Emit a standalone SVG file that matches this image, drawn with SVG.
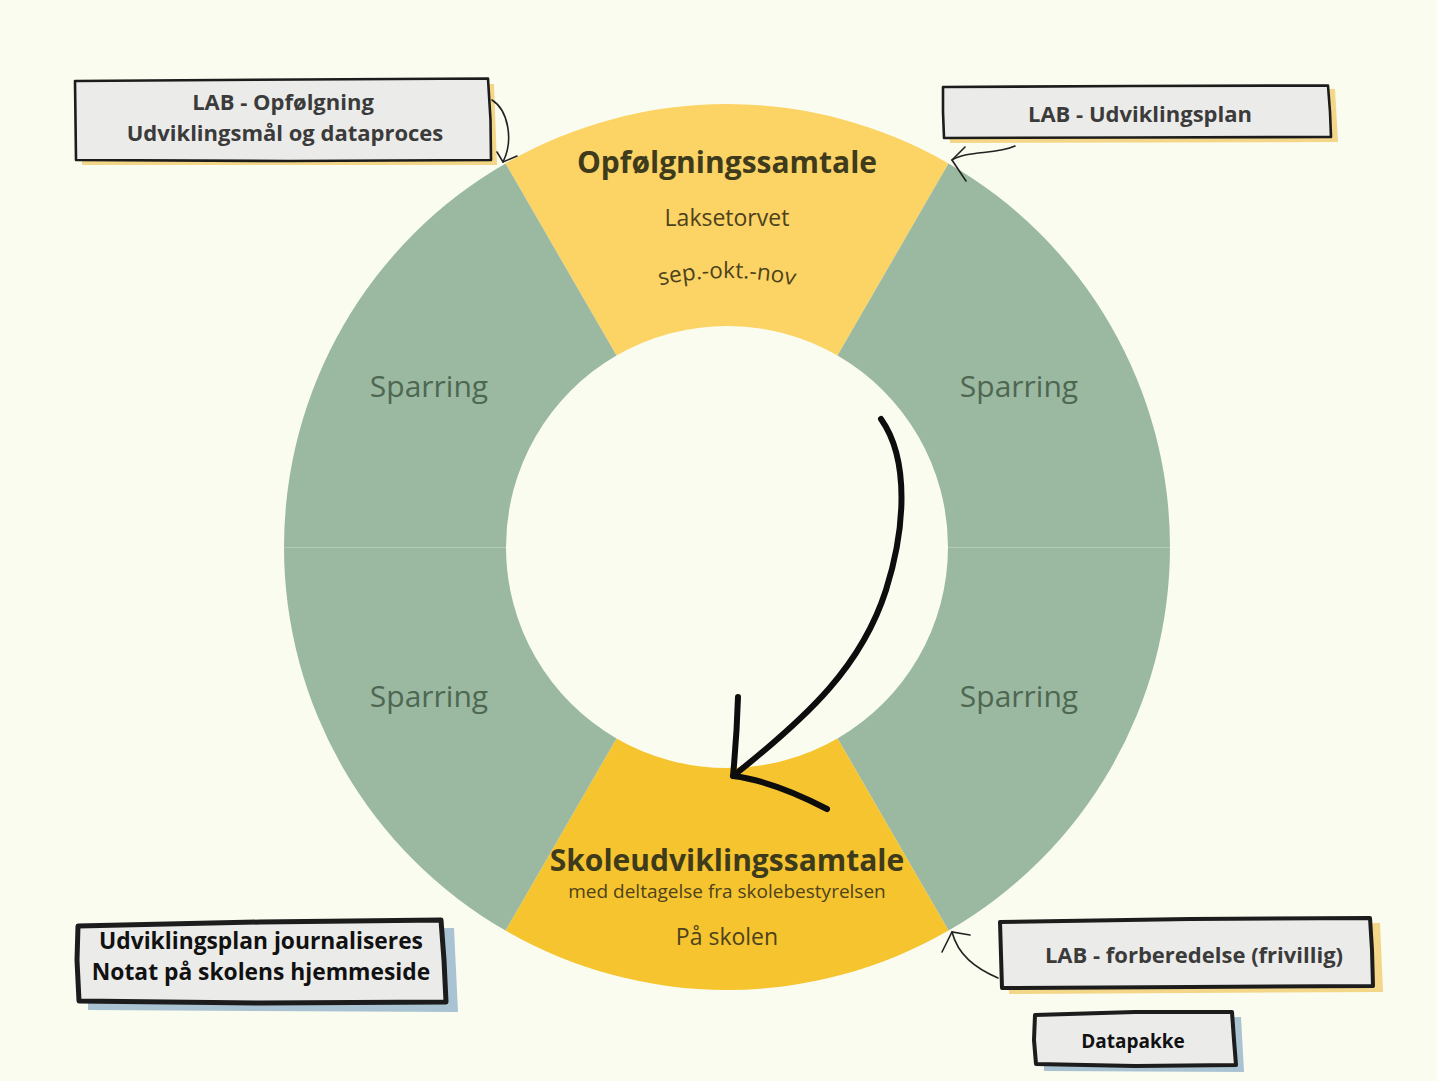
<svg xmlns="http://www.w3.org/2000/svg" width="1437" height="1081" viewBox="0 0 1437 1081">
<style>
.green{fill:#9bb9a1}
.ytop{fill:#fbd465}
.ybot{fill:#f5c42e}
.spar{font-family:"Open Sans","Liberation Sans",sans-serif;font-size:30px;fill:#4e6753;text-anchor:middle}
.ttl{font-family:"Open Sans","Liberation Sans",sans-serif;font-size:30px;font-weight:700;fill:#3e3b1c;text-anchor:middle}
.sub{font-family:"Open Sans","Liberation Sans",sans-serif;fill:#4d421c;text-anchor:middle}
.box{fill:#ebebea;stroke:#1c1c1c;stroke-linejoin:round}
.btxt{font-family:"Open Sans","Liberation Sans",sans-serif;font-weight:700;text-anchor:middle}
.thin{fill:none;stroke:#222;stroke-width:1.6;stroke-linecap:round}
.thick{fill:none;stroke:#0d0d0d;stroke-width:6;stroke-linecap:round;stroke-linejoin:round}
</style>
<defs>
<path id="arcSep" d="M 607,303 A 300 300 0 0 1 847,303"/>
</defs>
<rect x="0" y="0" width="1437" height="1081" fill="#fbfcf0"/>

<g id="ring">
<g id="seg-top"><path class="ytop" d="M505.5,163.4 A443,443 0 0 1 948.5,163.4 L837.5,355.6 A221,221 0 0 0 616.5,355.6 Z"/></g>
<g id="seg-top-right"><path class="green" d="M948.5,163.4 A443,443 0 0 1 1170,547 L948,547 A221,221 0 0 0 837.5,355.6 Z"/></g>
<g id="seg-bottom-right"><path class="green" d="M1170,547 A443,443 0 0 1 948.5,930.6 L837.5,738.4 A221,221 0 0 0 948,547 Z"/></g>
<g id="seg-bottom"><path class="ybot" d="M948.5,930.6 A443,443 0 0 1 505.5,930.6 L616.5,738.4 A221,221 0 0 0 837.5,738.4 Z"/></g>
<g id="seg-bottom-left"><path class="green" d="M505.5,930.6 A443,443 0 0 1 284,547 L506,547 A221,221 0 0 0 616.5,738.4 Z"/></g>
<g id="seg-top-left"><path class="green" d="M284,547 A443,443 0 0 1 505.5,163.4 L616.5,355.6 A221,221 0 0 0 506,547 Z"/></g>
<line x1="284" y1="547.5" x2="506" y2="547.5" stroke="#b5cbb8" stroke-width="1"/>
<line x1="948" y1="547.5" x2="1170" y2="547.5" stroke="#b5cbb8" stroke-width="1"/>
</g>

<g id="node-opfolgning">
<text class="ttl" x="727" y="173">Opfølgningssamtale</text>
<text class="sub" x="727" y="226" font-size="23">Laksetorvet</text>
<text class="sub" font-size="22.5" fill="#3e3a1e"><textPath href="#arcSep" startOffset="50%">sep.-okt.-nov</textPath></text>
</g>

<g id="node-sparring-tl"><text class="spar" x="429" y="397">Sparring</text></g>
<g id="node-sparring-tr"><text class="spar" x="1019" y="397">Sparring</text></g>
<g id="node-sparring-bl"><text class="spar" x="429" y="707">Sparring</text></g>
<g id="node-sparring-br"><text class="spar" x="1019" y="707">Sparring</text></g>

<g id="node-skoleudvikling">
<text class="ttl" x="727" y="871">Skoleudviklingssamtale</text>
<text class="sub" x="727" y="898" font-size="19">med deltagelse fra skolebestyrelsen</text>
<text class="sub" x="727" y="945" font-size="23">På skolen</text>
</g>

<g id="box-lab-opfolgning">
<path d="M81,86 L494,84 L497,165 L82,165 Z" fill="#f3d687"/>
<path class="box" stroke-width="2.6" d="M75,81 L300,79.5 L488,78.5 L490.5,120 L491,160 L290,161 L76,160 L75.5,120 Z"/>
<text class="btxt" x="283" y="110" font-size="22" fill="#3b3b3b">LAB - Opfølgning</text>
<text class="btxt" x="285" y="141" font-size="22" fill="#3b3b3b">Udviklingsmål og dataproces</text>
</g>

<g id="box-lab-udviklingsplan">
<path d="M949,91 L1335,89 L1338,142 L950,143 Z" fill="#f3d687"/>
<path class="box" stroke-width="2.6" d="M943,87 L1130,86 L1328,85.5 L1330,112 L1331,137 L1130,137.5 L944,138 L943,112 Z"/>
<text class="btxt" x="1140" y="122" font-size="22" fill="#3b3b3b">LAB - Udviklingsplan</text>
</g>

<g id="box-journaliseres">
<path d="M88,932 L454,928 L458,1012 L88,1010 Z" fill="#a9c3d2"/>
<path class="box" stroke-width="5" d="M78,926 L260,922 L441,920 L444,960 L446,1002 L260,1003 L79,1001 L77,960 Z"/>
<text class="btxt" x="261" y="949" font-size="22.8" fill="#111">Udviklingsplan journaliseres</text>
<text class="btxt" x="261" y="980" font-size="22.8" fill="#111">Notat på skolens hjemmeside</text>
</g>

<g id="box-lab-forberedelse">
<path d="M1008,927 L1380,923 L1383,992 L1009,994 Z" fill="#f3d687"/>
<path class="box" stroke-width="4" d="M1000,922 L1190,919 L1370,918 L1372,950 L1373,986 L1190,987 L1002,988 L1001,955 Z"/>
<text class="btxt" x="1194" y="963" font-size="22" font-weight="600" fill="#3b3b3b">LAB - forberedelse (frivillig)</text>
</g>

<g id="box-datapakke">
<path d="M1043,1020 L1241,1017 L1244,1072 L1044,1071 Z" fill="#a9c3d2"/>
<path class="box" stroke-width="4" d="M1035,1015 L1135,1012 L1232,1012 L1234,1040 L1236,1065 L1135,1066 L1036,1064 L1034,1040 Z"/>
<text class="btxt" x="1133" y="1048" font-size="19" fill="#111">Datapakke</text>
</g>

<g id="connectors">
<path class="thin" d="M492,100 C508,110 514,140 503,162"/>
<path class="thin" d="M497,152 L503,162 L517,156"/>
<path class="thin" d="M1015,146 C995,155 968,150 952,160"/>
<path class="thin" d="M965,147 L952,160 L966,181"/>
<path class="thin" d="M998,978 C975,968 958,955 952,932"/>
<path class="thin" d="M942,952 L952,932 L970,935"/>
<path class="thick" d="M881,419 C910,460 905,530 886,590 C862,665 810,715 733,776"/>
<path class="thick" d="M738,697 C737,730 735,755 733,776 C765,780 800,795 827,809"/>
</g>
</svg>
